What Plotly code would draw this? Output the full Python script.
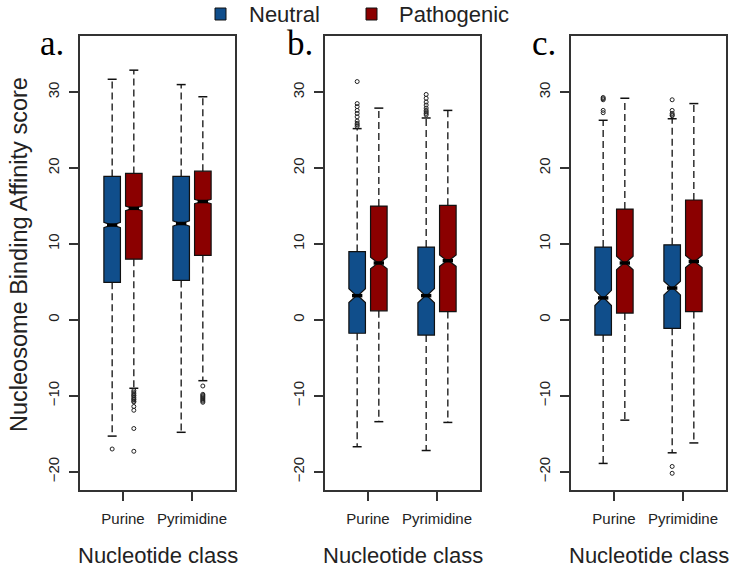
import plotly.graph_objects as go

# ---- data -------------------------------------------------------------
categories = ["Purine", "Pyrimidine"]
panel_labels = ["a.", "b.", "c."]
group_names = ["Neutral", "Pathogenic"]
group_colors = ["#104E8B", "#8B0000"]

# rows: panels a, b, c ; columns: Purine, Pyrimidine
neutral_q1 = [[4.96, 5.2], [-1.75, -2.0], [-2.0, -1.1]]
neutral_med = [[12.5, 12.7], [3.2, 3.2], [2.9, 4.2]]
neutral_q3 = [[18.9, 18.9], [9.0, 9.6], [9.6, 9.9]]
neutral_lo = [[-15.3, -14.8], [-16.7, -17.2], [-18.9, -17.5]]
neutral_hi = [[31.7, 31.0], [25.2, 26.6], [26.3, 26.5]]
neutral_notch = [[0.35, 0.35], [0.9, 0.95], [1.0, 0.9]]
neutral_out = [
    [[-17.0], []],
    [[25.5, 25.7, 25.9, 26.2, 26.75, 27.2, 27.6, 28.1, 28.5, 31.4],
     [27.0, 27.2, 27.4, 27.6, 27.9, 28.3, 28.7, 29.2, 29.7]],
    [[27.3, 27.6, 29.0, 29.15, 29.3],
     [26.9, 27.0, 27.2, 27.6, 29.0, -19.3, -20.2]],
]

patho_q1 = [[8.0, 8.5], [1.2, 1.1], [0.9, 1.1]]
patho_med = [[14.7, 15.6], [7.5, 7.8], [7.5, 7.7]]
patho_q3 = [[19.3, 19.6], [15.0, 15.1], [14.6, 15.8]]
patho_lo = [[-9.0, -8.0], [-13.4, -13.5], [-13.2, -16.2]]
patho_hi = [[32.9, 29.4], [27.9, 27.6], [29.2, 28.5]]
patho_notch = [[0.3, 0.3], [0.75, 0.75], [0.9, 0.8]]
patho_out = [
    [[-9.3, -9.5, -9.7, -9.9, -10.0, -10.2, -10.4, -10.5, -10.7, -10.8,
      -11.4, -11.9, -14.3, -17.3],
     [-8.7, -9.8, -9.95, -10.1, -10.25, -10.4, -10.55, -10.7, -10.85]],
    [[], []],
    [[], []],
]

y_ticks = [-20, -10, 0, 10, 20, 30]

# ---- geometry ----------------------------------------------------------
W, H = 733, 569
FONT = "Liberation Sans, Arial, sans-serif"
SERIF = "Liberation Serif, Times New Roman, serif"
TXT = "#222222"


def fx(px):
    return px / W


def fy(py):
    return 1 - py / H


panel_px = [(80, 235), (325, 480), (571, 726)]
y_dom = [fy(490), fy(36)]
cat_pos = [1, 2]
group_offset = [-0.157, 0.157]
box_w = 0.24
cap_half = 0.065
med_half = 0.075

groups = [
    (neutral_q1, neutral_med, neutral_q3, neutral_lo, neutral_hi, neutral_notch, neutral_out),
    (patho_q1, patho_med, patho_q3, patho_lo, patho_hi, patho_notch, patho_out),
]

fig = go.Figure()

for p in range(3):
    xa = "x" if p == 0 else f"x{p + 1}"
    ya = "y" if p == 0 else f"y{p + 1}"
    for g, (q1, med, q3, lo, hi, notch, outl) in enumerate(groups):
        for c in range(2):
            pos = cat_pos[c] + group_offset[g]
            # box body with notch
            fig.add_trace(go.Box(
                x=[pos], q1=[q1[p][c]], median=[med[p][c]], q3=[q3[p][c]],
                lowerfence=[q1[p][c]], upperfence=[q3[p][c]],
                notched=True, notchspan=[notch[p][c]], notchwidth=0.45,
                width=box_w, whiskerwidth=0,
                fillcolor=group_colors[g],
                line=dict(color="#111111", width=1.2),
                boxpoints=False, showlegend=False, hoverinfo="skip",
                xaxis=xa, yaxis=ya,
            ))
            # dashed whiskers
            fig.add_trace(go.Scatter(
                x=[pos, pos, None, pos, pos],
                y=[q3[p][c], hi[p][c], None, q1[p][c], lo[p][c]],
                mode="lines", line=dict(color="#111111", width=1.3, dash="7px,4px"),
                showlegend=False, hoverinfo="skip", xaxis=xa, yaxis=ya,
            ))
            # staples
            fig.add_trace(go.Scatter(
                x=[pos - cap_half, pos + cap_half, None, pos - cap_half, pos + cap_half],
                y=[hi[p][c], hi[p][c], None, lo[p][c], lo[p][c]],
                mode="lines", line=dict(color="#111111", width=1.5),
                showlegend=False, hoverinfo="skip", xaxis=xa, yaxis=ya,
            ))
            # thick median
            fig.add_trace(go.Scatter(
                x=[pos - med_half, pos + med_half],
                y=[med[p][c], med[p][c]],
                mode="lines", line=dict(color="#000000", width=3.5),
                showlegend=False, hoverinfo="skip", xaxis=xa, yaxis=ya,
            ))
            # outliers
            if outl[p][c]:
                fig.add_trace(go.Scatter(
                    x=[pos] * len(outl[p][c]), y=outl[p][c], mode="markers",
                    marker=dict(symbol="circle-open", size=4, color="#222222",
                                line=dict(width=1)),
                    showlegend=False, hoverinfo="skip", xaxis=xa, yaxis=ya,
                ))

layout = dict(
    width=W, height=H,
    margin=dict(l=0, r=0, t=0, b=0),
    paper_bgcolor="white", plot_bgcolor="white",
    showlegend=False,
    font=dict(family=FONT, color=TXT),
)

for p in range(3):
    sx = "" if p == 0 else str(p + 1)
    layout["xaxis" + sx] = dict(
        domain=[fx(panel_px[p][0]), fx(panel_px[p][1])],
        range=[0.377, 2.623], anchor="y" + sx,
        tickvals=cat_pos, ticktext=categories,
        ticks="outside", ticklen=9, tickwidth=1.5, tickcolor="#333333",
        tickfont=dict(size=15, family=FONT, color=TXT),
        ticklabelstandoff=5,
        showline=True, mirror=True, linecolor="#333333", linewidth=1.8,
        showgrid=False, zeroline=False,
    )
    layout["yaxis" + sx] = dict(
        domain=y_dom, range=[-22.4, 37.4], anchor="x" + sx,
        tickvals=y_ticks, tickangle=-90,
        ticks="outside", ticklen=9, tickwidth=1.5, tickcolor="#333333",
        tickfont=dict(size=15, family=FONT, color=TXT),
        ticklabelstandoff=4,
        showline=True, mirror=True, linecolor="#333333", linewidth=1.8,
        showgrid=False, zeroline=False,
    )

annotations = []
shapes = []
# panel letters
for p, (lx, lbl) in enumerate(zip([52, 300, 544], panel_labels)):
    annotations.append(dict(
        x=fx(lx), y=fy(43), xref="paper", yref="paper", text=lbl,
        showarrow=False, xanchor="center", yanchor="middle",
        font=dict(family=SERIF, size=35, color="#000000"),
    ))
    # x-axis title
    annotations.append(dict(
        x=fx((panel_px[p][0] + panel_px[p][1]) / 2), y=fy(555),
        xref="paper", yref="paper", text="Nucleotide class",
        showarrow=False, xanchor="center", yanchor="middle",
        font=dict(family=FONT, size=22, color=TXT),
    ))
# y-axis title
annotations.append(dict(
    x=fx(19), y=fy(255), xref="paper", yref="paper",
    text="Nucleosome Binding Affinity score", textangle=-90,
    showarrow=False, xanchor="center", yanchor="middle",
    font=dict(family=FONT, size=23.5, color=TXT),
))
# legend
for (sx0, tx, name, col) in [(215, 247, group_names[0], group_colors[0]),
                             (366, 397, group_names[1], group_colors[1])]:
    shapes.append(dict(
        type="rect", xref="paper", yref="paper",
        x0=fx(sx0), x1=fx(sx0 + 11), y0=fy(20), y1=fy(8),
        fillcolor=col, line=dict(color="#111111", width=1),
    ))
    annotations.append(dict(
        x=fx(tx), y=fy(14), xref="paper", yref="paper", text=name,
        showarrow=False, xanchor="left", yanchor="middle",
        font=dict(family=FONT, size=22, color=TXT),
    ))

layout["annotations"] = annotations
layout["shapes"] = shapes
fig.update_layout(**layout)

fig.write_html("out.html")
